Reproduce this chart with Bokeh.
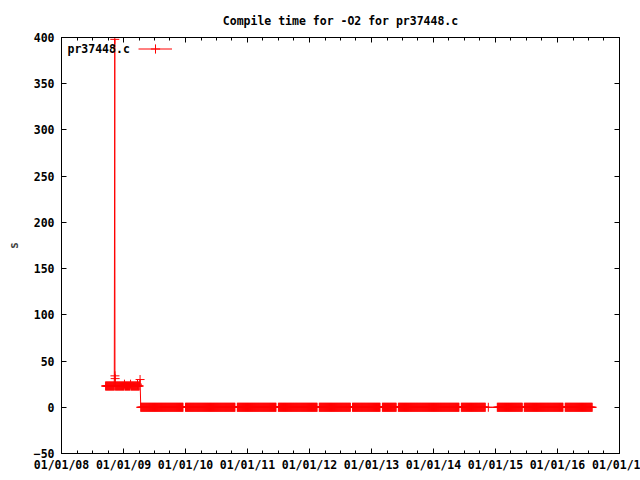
import pandas as pd
from bokeh.plotting import figure
from bokeh.models import (Range1d, FixedTicker, DatetimeTickFormatter, LinearAxis,
                          DatetimeAxis, Label, Legend, LegendItem)
from bokeh.embed import file_html
from bokeh.resources import INLINE

# ---------------- data ----------------
title_text = "Compile time for -O2 for pr37448.c"
series_name = "pr37448.c"
y_label = "s"

# early period: compile time ~23 s
early_start = "2008-09-17"
early_end = "2009-04-05"
early_value = 23

# individual readings that stand out
special_dates = ["2008-11-10", "2008-11-11", "2008-11-12",
                 "2009-01-06", "2009-02-11", "2009-03-24", "2009-04-08"]
special_values = [398, 34, 31, 25, 25, 25, 30]

# later period: ~0 s, runs of measurements separated by small gaps
zero_run_starts = ["2009-04-12", "2010-01-01", "2010-11-02", "2011-07-02", "2012-02-28",
                   "2012-09-11", "2013-03-06", "2013-06-08", "2014-06-14", "2014-11-20",
                   "2015-01-12", "2015-06-20", "2016-02-16"]
zero_run_ends = ["2009-12-19", "2010-10-21", "2011-06-20", "2012-02-16", "2012-08-30",
                 "2013-02-22", "2013-05-27", "2014-06-02", "2014-11-02", "2014-11-20",
                 "2015-06-08", "2016-02-04", "2016-07-25"]
zero_value = 0
sample_step = "3D"

year_ticks = list(range(2008, 2018))
# the last tick label is cut by the image edge in the reference
last_tick_label = "01/01/1"
y_ticks = [-50, 0, 50, 100, 150, 200, 250, 300, 350, 400]

# ---------------- build series ----------------
points = {}
for d in pd.date_range(early_start, early_end, freq=sample_step):
    points[d] = early_value
for d, v in zip(special_dates, special_values):
    points[pd.Timestamp(d)] = v
for s, e in zip(zero_run_starts, zero_run_ends):
    for d in pd.date_range(s, e, freq=sample_step):
        points[d] = zero_value
dates = sorted(points)
values = [points[d] for d in dates]

FONT = "DejaVu Sans Mono"
FS = "11.5px"
RED = "#ff0000"

def ms(ts):
    return pd.Timestamp(ts).value / 1e6

major = [ms(f"{y}-01-01") for y in year_ticks]
minor = []
for y in year_ticks[:-1]:
    for md in ("04-02", "07-02", "10-01"):
        minor.append(ms(f"{y}-{md}"))

p = figure(width=640, height=480, x_axis_type="datetime",
           output_backend="svg", toolbar_location=None,
           x_range=Range1d(ms("2008-01-01"), ms("2017-01-01")),
           y_range=Range1d(-50, 400),
           min_border_left=61, min_border_right=21,
           min_border_top=37, min_border_bottom=27)
p.background_fill_color = "white"
p.border_fill_color = "white"
p.xgrid.visible = False
p.ygrid.visible = False
p.outline_line_color = "black"
p.outline_line_width = 1

p.title.text = title_text
p.title.align = "center"
p.title.text_font = FONT
p.title.text_font_size = FS
p.title.text_font_style = "bold"
p.title.text_color = "black"
p.title.standoff = 19

fmt = DatetimeTickFormatter(**{k: "%m/%d/%y" for k in
                               ["microseconds", "milliseconds", "seconds", "minsec",
                                "minutes", "hourmin", "hours", "days", "months", "years"]})
xt = FixedTicker(ticks=major, minor_ticks=minor)
xa = p.xaxis[0]
xa.ticker = xt
xa.formatter = fmt
xa.major_label_overrides = {major[-1]: last_tick_label}
ya = p.yaxis[0]
ya.ticker = FixedTicker(ticks=y_ticks)
ya.axis_label = y_label

for ax in (xa, ya):
    ax.major_label_text_font = FONT
    ax.major_label_text_font_size = FS
    ax.major_label_text_font_style = "bold"
    ax.major_label_text_color = "black"
    ax.axis_label_text_font = FONT
    ax.axis_label_text_font_size = FS
    ax.axis_label_text_font_style = "bold"
    ax.major_tick_in = 5
    ax.major_tick_out = 0
    ax.minor_tick_in = 3
    ax.minor_tick_out = 0
    ax.axis_line_color = "black"
ya.minor_tick_line_color = None
xa.major_label_standoff = 4
ya.major_label_standoff = 7
ya.axis_label_standoff = 10

# mirrored ticks on top and right (no labels drawn)
top = DatetimeAxis(ticker=xt, formatter=fmt, major_label_text_color=None,
                   major_label_standoff=0, major_tick_in=5, major_tick_out=0,
                   minor_tick_in=3, minor_tick_out=0)
p.add_layout(top, "above")
right = LinearAxis(ticker=FixedTicker(ticks=y_ticks), major_label_text_color=None,
                   major_label_standoff=0, major_tick_in=5, major_tick_out=0,
                   minor_tick_line_color=None)
p.add_layout(right, "right")

src = dict(x=dates, y=values)
ln = p.line(x="x", y="y", source=src, line_color=RED, line_width=1)
sc = p.scatter(x="x", y="y", source=src, marker="cross", size=9,
               line_color=RED, line_width=1)

# key: label text followed by the sample, as in the reference
p.add_layout(Label(x=6, y=405, x_units="screen", y_units="screen", text=series_name,
                   text_font=FONT, text_font_size=FS, text_font_style="bold",
                   text_baseline="middle", text_color="black"))
leg = Legend(items=[LegendItem(label=" ", renderers=[ln, sc])],
             location=(77, 393), padding=0, margin=0, spacing=0,
             glyph_width=34, glyph_height=23, label_height=10, label_width=1,
             label_standoff=0, label_text_font_size="6px",
             background_fill_alpha=0, border_line_color=None)
p.add_layout(leg)

open("out.html", "w").write(file_html(p, INLINE))
